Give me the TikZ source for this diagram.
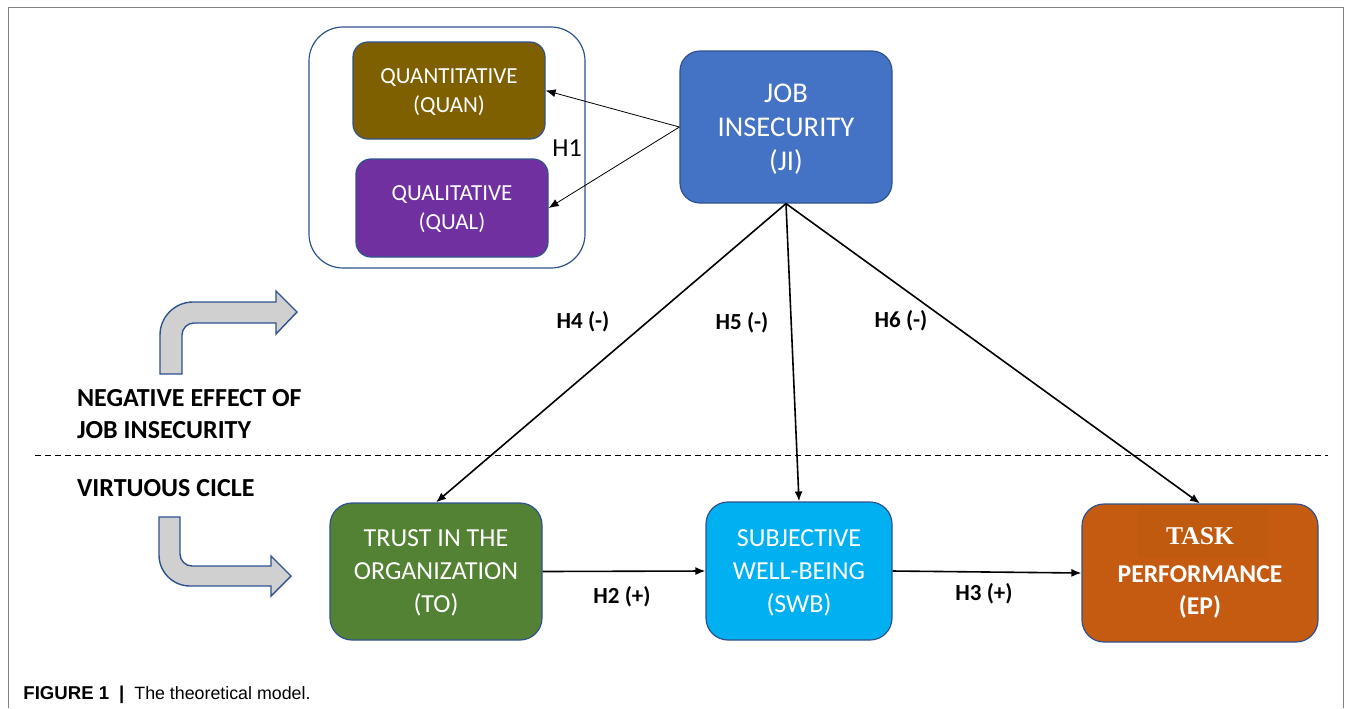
\documentclass[tikz,border=0pt]{standalone}
\usepackage{fontspec}
\setmainfont{Carlito}
\newfontfamily\capfont{Liberation Sans}
\newfontfamily\taskfont{Liberation Serif}
\usetikzlibrary{arrows.meta}
\tikzset{>={Latex[length=5pt,width=4pt]}}
\definecolor{boxline}{HTML}{2F528F}
\definecolor{jiblue}{HTML}{4472C4}
\definecolor{quanbrown}{HTML}{7F6000}
\definecolor{qualpurple}{HTML}{7030A0}
\definecolor{togreen}{HTML}{548235}
\definecolor{swbcyan}{HTML}{00B0F0}
\definecolor{eporange}{HTML}{C55A11}
\definecolor{taskbg}{HTML}{C05A0F}
\definecolor{bentgray}{HTML}{D0D0D0}
\definecolor{framegray}{HTML}{808080}
\tikzset{
  box/.style={draw=boxline, line width=0.6pt, rectangle, rounded corners=#1,
    text=white, align=center, inner sep=0pt, text depth=-2pt},
  box/.default=10pt,
  lowbox/.style={box=11pt, text depth=-4pt, font=\fontsize{13}{16.5}\selectfont},
  hyp/.style={font=\fontsize{11.5}{14}\selectfont\bfseries},
  side/.style={font=\fontsize{13}{16}\selectfont\bfseries, align=left, anchor=west},
  bent/.style={draw=boxline, fill=bentgray, line width=0.7pt},
}

\begin{document}
\begin{tikzpicture}[x=0.5pt, y=-0.5pt]
\useasboundingbox (0,0) rectangle (1354,708);
\draw[framegray, line width=0.5pt] (8,708) -- (8,7) -- (1343,7) -- (1343,708);

\node[box=17pt, fill=white, minimum width=138pt, minimum height=120.5pt] (dims) at (447,147.5) {};
\node[box=7.5pt, fill=quanbrown, minimum width=96pt, minimum height=48.5pt,
  font=\fontsize{11.5}{14.5}\selectfont] (quan) at (449,90.5) {QUANTITATIVE\\(QUAN)};
\node[box=7.5pt, fill=qualpurple, minimum width=96pt, minimum height=49pt,
  font=\fontsize{11.5}{14.5}\selectfont] (qual) at (452,208) {QUALITATIVE\\(QUAL)};
\node[box, fill=jiblue, minimum width=106pt, minimum height=76pt,
  font=\fontsize{14.3}{17}\selectfont] (ji) at (786,127) {JOB\\INSECURITY\\(JI)};

\node[lowbox, fill=togreen, minimum width=106pt, minimum height=68.5pt] (to) at (436,571.5) {TRUST IN THE\\ORGANIZATION\\(TO)};
\node[lowbox, fill=swbcyan, minimum width=93pt, minimum height=69pt] (swb) at (799,571) {SUBJECTIVE\\WELL-BEING\\(SWB)};
\node[box=11pt, fill=eporange, minimum width=118pt, minimum height=69pt] (ep) at (1200,573) {};
\fill[taskbg] (1138,508) rectangle (1268,558);
\node[text=white, font=\taskfont\bfseries\fontsize{12.8}{15}\selectfont, anchor=base] (task) at (1200,544) {TASK};
\node[text=white, font=\fontsize{12.8}{16}\selectfont\bfseries, anchor=base] (perf) at (1200,582) {PERFORMANCE};
\node[text=white, font=\fontsize{12.8}{16}\selectfont\bfseries, anchor=base] (epabbr) at (1200,614) {(EP)};

\draw[->, line width=0.4pt] (ji.west) -- (quan.east);
\draw[->, line width=0.4pt] (ji.west) -- (qual.east);
\node[font=\fontsize{13}{15}\selectfont] (h1) at (567,148) {H1};

\draw[->, line width=0.8pt] (ji.south) -- (to.north);
\draw[->, line width=0.8pt] (ji.south) -- (swb.north);
\draw[->, line width=0.8pt] (ji.south) -- (ep.north);
\draw[->, line width=0.8pt] (to.east) -- (swb.west);
\draw[->, line width=0.8pt] (swb.east) -- (ep.west);

\node[hyp] (h4) at (583,322) {H4 (-)};
\node[hyp] (h5) at (742,323) {H5 (-)};
\node[hyp] (h6) at (901,321) {H6 (-)};
\node[hyp] (h2) at (622,597) {H2 (+)};
\node[hyp] (h3) at (984,594) {H3 (+)};

\draw[dashed, dash pattern=on 3pt off 2pt, line width=0.5pt] (35,455) -- (1328,455);

\node[side] (neg) at (70,414) {NEGATIVE EFFECT OF\\JOB INSECURITY};
\node[side] (virt) at (70,488) {VIRTUOUS CICLE};

\draw[bent] (160,374) -- (160,335) .. controls (160,316.8) and (174.8,302) .. (193,302)
  -- (276,302) -- (276,291) -- (297,312) -- (276,334) -- (276,323) -- (194,323)
  .. controls (187.4,323) and (182,328.4) .. (182,335) -- (182,374) -- cycle;
\draw[bent] (159,517) -- (159,555) .. controls (159,572.1) and (172.9,586) .. (190,586)
  -- (271,586) -- (271,596) -- (291,576) -- (271,556) -- (271,566) -- (192,566)
  .. controls (185.4,566) and (180,560.6) .. (180,554) -- (180,517) -- cycle;

\node[anchor=base west, inner sep=0pt, font=\capfont\fontsize{9.3}{11}\selectfont] (cap) at (23,699)
  {\textbf{FIGURE 1}\hspace{5pt}\textbf{|}\hspace{5pt}{\fontsize{8.9}{11}\selectfont The theoretical model.}};
\end{tikzpicture}
\end{document}
